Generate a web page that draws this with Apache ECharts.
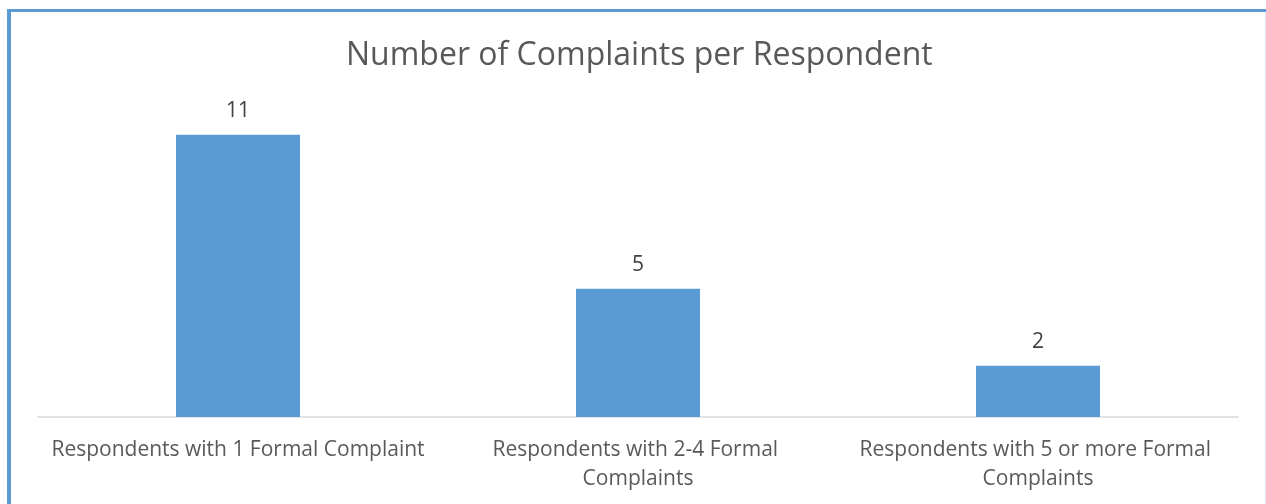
<!DOCTYPE html>
<html>
<head>
<meta charset="utf-8">
<script src="https://cdn.jsdelivr.net/npm/echarts@6/dist/echarts.min.js"></script>
<style>
  html, body { margin: 0; padding: 0; background: #fff; }
  #chart { width: 1266px; height: 504px; }
</style>
</head>
<body>
<div id="chart"></div>
<script>
// chart data
const categories = [
  'Respondents with 1 Formal Complaint',
  'Respondents with 2-4 Formal Complaints',
  'Respondents with 5 or more Formal Complaints'
];
const complaintCounts = [11, 5, 2];

const chart = echarts.init(document.getElementById('chart'));
chart.setOption({
  animation: false,
  title: {
    text: 'Number of Complaints per Respondent',
    left: 341,
    top: 35,
    textStyle: { fontFamily: 'Open Sans', fontSize: 32, fontWeight: 'normal', color: '#595959' }
  },
  grid: { left: 38, right: 28, top: 109, bottom: 87 },
  xAxis: {
    type: 'category',
    data: categories,
    axisLine: { lineStyle: { color: '#D9D9D9', width: 1.5 } },
    axisTick: { show: false },
    axisLabel: {
      interval: 0,
      margin: 19,
      width: 388,
      overflow: 'break',
      lineHeight: 29,
      fontFamily: 'Open Sans',
      fontSize: 21,
      color: '#595959'
    }
  },
  yAxis: {
    type: 'value',
    min: 0,
    max: 12,
    show: false,
    splitLine: { show: false }
  },
  series: [{
    type: 'bar',
    data: complaintCounts,
    barWidth: 124,
    itemStyle: { color: '#5B9BD5' },
    label: {
      show: true,
      position: 'top',
      distance: 13,
      fontFamily: 'Open Sans',
      fontSize: 21,
      color: '#404040'
    }
  }],
  // frame lines
  graphic: [
    { type: 'rect', shape: { x: 7, y: 9, width: 4, height: 495 }, style: { fill: '#5B9BD5' } },
    { type: 'rect', shape: { x: 7, y: 9, width: 1259, height: 3 }, style: { fill: '#5B9BD5' } },
    { type: 'rect', shape: { x: 1265, y: 12, width: 1, height: 492 }, style: { fill: '#DCE8F4' } }
  ]
});
</script>
</body>
</html>
